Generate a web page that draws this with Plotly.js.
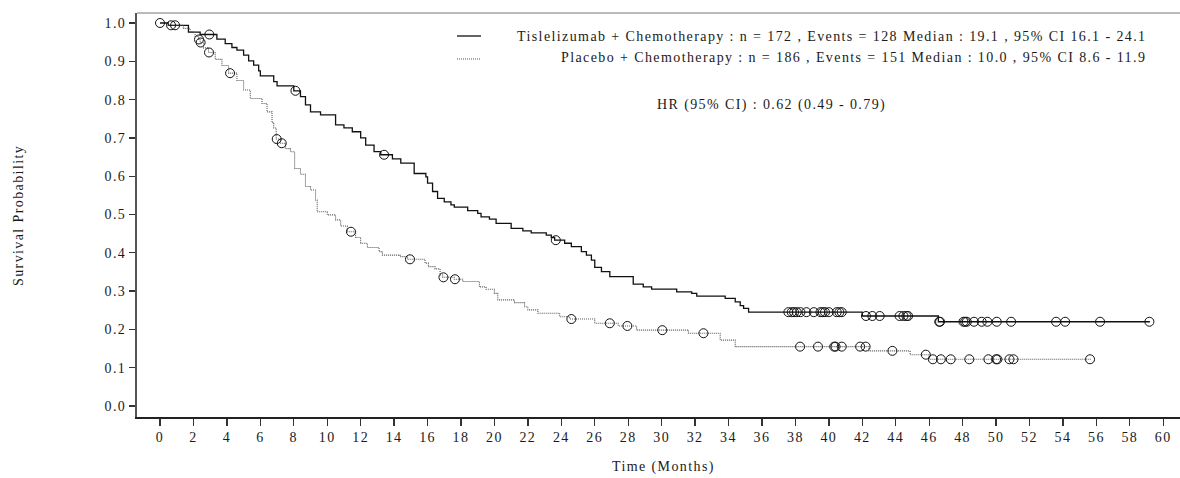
<!DOCTYPE html>
<html>
<head>
<meta charset="utf-8">
<script src="https://cdn.plot.ly/plotly-3.0.1.min.js"></script>
<style>
html,body{margin:0;padding:0;background:#fff;}
#chart{width:1180px;height:478px;}
text{letter-spacing:1.4px;}
</style>
</head>
<body>
<div id="chart"></div>
<script>
// ---- Data ----
const tisName = "Tislelizumab + Chemotherapy : n = 172 , Events = 128 Median : 19.1 , 95% CI 16.1 - 24.1";
const plaName = "Placebo + Chemotherapy : n = 186 , Events = 151 Median : 10.0 , 95% CI 8.6 - 11.9";
const hrText = "HR (95% CI) : 0.62 (0.49 - 0.79)";

const tisTime = [0, 0.5, 1.7, 2.4, 3.4, 3.9, 4.3, 4.6, 5.0, 5.3, 5.6, 5.9, 6.0, 6.8, 7.0, 8.0, 8.4, 8.7, 9.0, 9.6,
  10.5, 11.0, 11.5, 12.0, 12.3, 12.8, 13.2, 13.9, 14.4, 15.2, 15.9, 16.0, 16.3, 16.6, 17.0, 17.4, 17.6, 18.4, 19.0, 19.2,
  19.7, 20.1, 21.0, 21.7, 22.2, 23.1, 23.4, 23.6, 24.2, 24.6, 25.2, 25.5, 25.8, 26.0, 26.4, 26.9, 28.3, 28.9, 29.4, 30.9,
  31.8, 32.1, 33.8, 34.4, 34.7, 34.9, 35.2, 42.0, 46.55, 59.2];
const tisSurv = [1.0, 0.994, 0.976, 0.970, 0.958, 0.946, 0.936, 0.929, 0.916, 0.901, 0.890, 0.875, 0.862, 0.847, 0.836, 0.823, 0.808, 0.786, 0.768, 0.760,
  0.734, 0.726, 0.716, 0.700, 0.681, 0.664, 0.656, 0.645, 0.634, 0.607, 0.598, 0.582, 0.560, 0.542, 0.533, 0.525, 0.519, 0.510, 0.503, 0.494,
  0.488, 0.477, 0.464, 0.457, 0.452, 0.446, 0.440, 0.433, 0.425, 0.416, 0.403, 0.394, 0.381, 0.362, 0.351, 0.338, 0.318, 0.311, 0.305, 0.298,
  0.294, 0.287, 0.281, 0.272, 0.262, 0.255, 0.245, 0.235, 0.220, 0.220];
const tisCensor = [0.66, 2.95, 8.1, 13.4, 23.67,
  37.58, 37.78, 37.92, 38.08, 38.3, 38.66, 39.1, 39.5, 39.63, 39.77, 40.0, 40.47, 40.63, 40.77,
  42.22, 42.6, 43.04, 44.23, 44.46, 44.64, 44.74,
  46.6, 46.65, 48.05, 48.15, 48.25, 48.68, 49.14, 49.48, 50.04, 50.9, 53.59, 54.13, 56.22, 59.17];

const plaTime = [0, 0.5, 1.4, 1.8, 2.1, 2.3, 2.4, 2.6, 2.9, 3.3, 3.7, 4.1, 4.6, 5.0, 5.4, 6.1, 6.4, 6.7, 6.8, 6.95,
  7.2, 7.5, 7.8, 8.05, 8.4, 8.7, 9.0, 9.3, 9.4, 10.0, 10.5, 10.8, 11.2, 11.7, 12.0, 12.4, 13.1, 13.3, 14.35, 14.8,
  15.85, 16.05, 16.45, 16.75, 16.9, 17.6, 18.1, 19.1, 19.5, 20.0, 20.2, 21.2, 21.8, 22.0, 22.6, 23.9, 24.5, 26.0, 27.4, 28.5,
  31.6, 33.5, 34.4, 42.4, 44.86, 46.0, 55.7];
const plaSurv = [1.0, 0.994, 0.986, 0.977, 0.965, 0.957, 0.949, 0.935, 0.923, 0.905, 0.889, 0.869, 0.850, 0.825, 0.803, 0.790, 0.768, 0.740, 0.726, 0.697,
  0.686, 0.672, 0.664, 0.620, 0.605, 0.573, 0.564, 0.538, 0.507, 0.499, 0.486, 0.470, 0.455, 0.440, 0.425, 0.414, 0.403, 0.394, 0.390, 0.383,
  0.373, 0.364, 0.358, 0.342, 0.336, 0.331, 0.325, 0.311, 0.305, 0.294, 0.277, 0.270, 0.259, 0.251, 0.242, 0.233, 0.227, 0.216, 0.209, 0.198,
  0.190, 0.172, 0.155, 0.144, 0.134, 0.122, 0.122];
const plaCensor = [0.0, 0.9, 2.33, 2.43, 2.93, 4.19, 6.98, 7.28, 11.42, 14.95, 16.95, 17.64, 24.6, 26.9, 27.95, 30.04, 32.5,
  38.28, 39.35, 40.32, 40.4, 40.77, 41.87, 42.2, 43.8, 45.8, 46.22, 46.7, 47.29, 48.4, 49.54, 50.0, 50.08, 50.8, 51.04, 55.62];

const xTicks = [0,2,4,6,8,10,12,14,16,18,20,22,24,26,28,30,32,34,36,38,40,42,44,46,48,50,52,54,56,58,60];
const yTicks = [0.0,0.1,0.2,0.3,0.4,0.5,0.6,0.7,0.8,0.9,1.0];

// survival value of a step curve at time t (to place censor marks on the curve)
function survAt(times, surv, t) {
  let s = surv[0];
  for (let i = 0; i < times.length; i++) { if (times[i] <= t + 1e-9) s = surv[i]; }
  return s;
}

const FONT = "Liberation Serif, Times New Roman, serif";
const FS = 14;
const TXT = "#1a1a1a";

const traces = [
  {x: tisTime, y: tisSurv, type: "scatter", mode: "lines", line: {shape: "hv", color: "#111", width: 1.3}, hoverinfo: "skip"},
  {x: plaTime, y: plaSurv, type: "scatter", mode: "lines", line: {shape: "hv", color: "#555", width: 1.1, dash: "1px,1px"}, hoverinfo: "skip"},
  {x: tisCensor, y: tisCensor.map(t => survAt(tisTime, tisSurv, t)), type: "scatter", mode: "markers",
   marker: {symbol: "circle-open", size: 9, color: "#111", line: {width: 1, color: "#111"}}},
  {x: plaCensor, y: plaCensor.map(t => survAt(plaTime, plaSurv, t)), type: "scatter", mode: "markers",
   marker: {symbol: "circle-open", size: 9, color: "#111", line: {width: 1, color: "#111"}}}
];

const W = 1180, H = 478, ML = 137, MR = 0, MT = 13, MB = 61;
const PW = W - ML - MR, PH = H - MT - MB;
const px = v => (v - ML) / PW;          // pixel -> paper x
const py = v => (H - MB - v) / PH;      // pixel -> paper y

const layout = {
  width: W, height: H,
  margin: {l: ML, r: MR, t: MT, b: MB, pad: 0},
  paper_bgcolor: "#fff", plot_bgcolor: "#fff",
  showlegend: false,
  font: {family: FONT, size: FS, color: TXT},
  xaxis: {
    range: [-1.376, 61.0], tickvals: xTicks, ticktext: xTicks.map(String),
    showgrid: false, zeroline: false, showline: true, linecolor: "#222", linewidth: 1.5,
    ticks: "outside", ticklen: 7, tickwidth: 1.3, tickcolor: "#333",
    tickfont: {family: FONT, size: FS, color: TXT}, fixedrange: true
  },
  yaxis: {
    range: [-0.0287, 1.0261], tickvals: yTicks, ticktext: yTicks.map(v => v.toFixed(1)),
    showgrid: false, zeroline: false, showline: true, linecolor: "#555", linewidth: 2,
    ticks: "outside", ticklen: 6, tickwidth: 1.3, tickcolor: "#333",
    tickfont: {family: FONT, size: FS, color: TXT}, fixedrange: true
  },
  shapes: [
    {type: "line", xref: "paper", yref: "paper", x0: 0, x1: 1, y0: 1, y1: 1, line: {color: "#777", width: 1}},
    {type: "line", xref: "paper", yref: "paper", x0: px(457), x1: px(481), y0: py(36), y1: py(36), line: {color: "#111", width: 1.3}},
    {type: "line", xref: "paper", yref: "paper", x0: px(457), x1: px(481), y0: py(59), y1: py(59), line: {color: "#555", width: 1.1, dash: "1px,1px"}}
  ],
  annotations: [
    {xref: "paper", yref: "paper", x: px(1148), y: py(36), xanchor: "right", yanchor: "middle", showarrow: false, text: tisName, font: {family: FONT, size: FS, color: TXT}},
    {xref: "paper", yref: "paper", x: px(1148), y: py(58), xanchor: "right", yanchor: "middle", showarrow: false, text: plaName, font: {family: FONT, size: FS, color: TXT}},
    {xref: "paper", yref: "paper", x: px(771), y: py(105), xanchor: "center", yanchor: "middle", showarrow: false, text: hrText, font: {family: FONT, size: FS, color: TXT}},
    {xref: "paper", yref: "paper", x: px(663), y: py(467), xanchor: "center", yanchor: "middle", showarrow: false, text: "Time (Months)", font: {family: FONT, size: FS, color: TXT}},
    {xref: "paper", yref: "paper", x: px(18), y: py(216), xanchor: "center", yanchor: "middle", showarrow: false, textangle: -90, text: "Survival Probability", font: {family: FONT, size: FS, color: TXT}}
  ]
};

Plotly.newPlot("chart", traces, layout, {displayModeBar: false, staticPlot: true});
</script>
</body>
</html>
